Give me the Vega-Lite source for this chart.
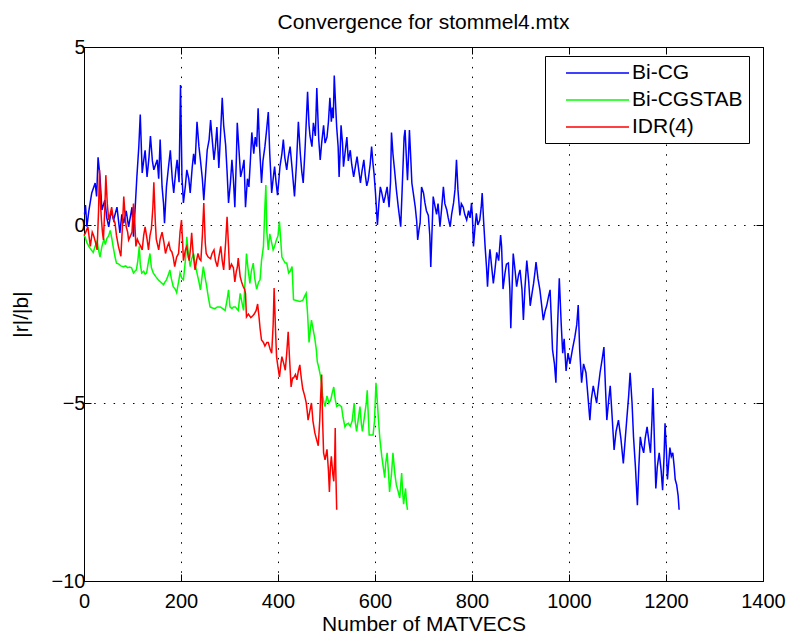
{
"$schema":"https://vega.github.io/schema/vega-lite/v6.json",
"autosize":"none",
"width":679,"height":534,
"padding":{"left":84,"top":47,"right":24,"bottom":52},
"background":"white",
"title":{"text":"Convergence for stommel4.mtx","fontSize":21,"fontWeight":"normal","font":"Liberation Sans","color":"black","anchor":"middle","offset":4},
"config":{"view":{"stroke":null},"axis":{"labelFont":"Liberation Sans","titleFont":"Liberation Sans","labelColor":"black","titleColor":"black","domainColor":"black","tickColor":"black","gridColor":"black","gridDash":[1.5,8.2],"gridOpacity":1,"gridWidth":1,"tickSize":-7,"titleFontWeight":"normal"}},
"data":{"values":[
{"method":"Bi-CG","x":1,"y":0.3},{"method":"Bi-CG","x":3,"y":0.56},{"method":"Bi-CG","x":6,"y":-0.05},{"method":"Bi-CG","x":10,"y":0.4},{"method":"Bi-CG","x":16,"y":0.9},{"method":"Bi-CG","x":23,"y":1.18},{"method":"Bi-CG","x":26,"y":0.8},{"method":"Bi-CG","x":29,"y":1.9},{"method":"Bi-CG","x":33,"y":1.35},{"method":"Bi-CG","x":37,"y":0.42},{"method":"Bi-CG","x":43,"y":0.7},{"method":"Bi-CG","x":47,"y":0.2},{"method":"Bi-CG","x":51,"y":-0.05},{"method":"Bi-CG","x":56,"y":0.4},{"method":"Bi-CG","x":61,"y":0.14},{"method":"Bi-CG","x":68,"y":0.5},{"method":"Bi-CG","x":74,"y":-0.22},{"method":"Bi-CG","x":78,"y":0.3},{"method":"Bi-CG","x":82,"y":0.05},{"method":"Bi-CG","x":87,"y":0.4},{"method":"Bi-CG","x":92,"y":-0.05},{"method":"Bi-CG","x":99,"y":0.5},{"method":"Bi-CG","x":102,"y":-0.33},{"method":"Bi-CG","x":106,"y":0.6},{"method":"Bi-CG","x":109,"y":1.35},{"method":"Bi-CG","x":113,"y":2.2},{"method":"Bi-CG","x":116,"y":3.1},{"method":"Bi-CG","x":120,"y":1.46},{"method":"Bi-CG","x":123,"y":1.8},{"method":"Bi-CG","x":126,"y":2.1},{"method":"Bi-CG","x":130,"y":1.35},{"method":"Bi-CG","x":134,"y":1.9},{"method":"Bi-CG","x":137,"y":2.5},{"method":"Bi-CG","x":141,"y":1.8},{"method":"Bi-CG","x":144,"y":1.55},{"method":"Bi-CG","x":151,"y":1.83},{"method":"Bi-CG","x":154,"y":1.3},{"method":"Bi-CG","x":157,"y":2.4},{"method":"Bi-CG","x":161,"y":1.07},{"method":"Bi-CG","x":164,"y":0.6},{"method":"Bi-CG","x":166,"y":0.05},{"method":"Bi-CG","x":170,"y":1.07},{"method":"Bi-CG","x":174,"y":1.6},{"method":"Bi-CG","x":178,"y":2.1},{"method":"Bi-CG","x":182,"y":1.3},{"method":"Bi-CG","x":185,"y":0.9},{"method":"Bi-CG","x":189,"y":1.5},{"method":"Bi-CG","x":192,"y":1.83},{"method":"Bi-CG","x":196,"y":1.2},{"method":"Bi-CG","x":199,"y":3.93},{"method":"Bi-CG","x":202,"y":1.35},{"method":"Bi-CG","x":205,"y":0.62},{"method":"Bi-CG","x":209,"y":1.1},{"method":"Bi-CG","x":212,"y":1.55},{"method":"Bi-CG","x":216,"y":1.3},{"method":"Bi-CG","x":219,"y":0.9},{"method":"Bi-CG","x":223,"y":1.6},{"method":"Bi-CG","x":226,"y":2.0},{"method":"Bi-CG","x":229,"y":1.7},{"method":"Bi-CG","x":233,"y":2.9},{"method":"Bi-CG","x":237,"y":2.2},{"method":"Bi-CG","x":240,"y":1.83},{"method":"Bi-CG","x":244,"y":1.3},{"method":"Bi-CG","x":247,"y":0.7},{"method":"Bi-CG","x":251,"y":1.5},{"method":"Bi-CG","x":254,"y":2.1},{"method":"Bi-CG","x":258,"y":2.4},{"method":"Bi-CG","x":261,"y":2.95},{"method":"Bi-CG","x":265,"y":2.3},{"method":"Bi-CG","x":268,"y":1.83},{"method":"Bi-CG","x":271,"y":2.2},{"method":"Bi-CG","x":274,"y":2.75},{"method":"Bi-CG","x":278,"y":1.6},{"method":"Bi-CG","x":281,"y":2.4},{"method":"Bi-CG","x":285,"y":3.57},{"method":"Bi-CG","x":288,"y":2.8},{"method":"Bi-CG","x":292,"y":2.25},{"method":"Bi-CG","x":295,"y":1.5},{"method":"Bi-CG","x":298,"y":0.62},{"method":"Bi-CG","x":302,"y":1.2},{"method":"Bi-CG","x":305,"y":1.83},{"method":"Bi-CG","x":308,"y":1.3},{"method":"Bi-CG","x":311,"y":0.5},{"method":"Bi-CG","x":314,"y":1.8},{"method":"Bi-CG","x":316,"y":2.87},{"method":"Bi-CG","x":320,"y":2.0},{"method":"Bi-CG","x":323,"y":1.35},{"method":"Bi-CG","x":327,"y":1.6},{"method":"Bi-CG","x":330,"y":1.83},{"method":"Bi-CG","x":333,"y":0.5},{"method":"Bi-CG","x":337,"y":1.3},{"method":"Bi-CG","x":340,"y":1.07},{"method":"Bi-CG","x":343,"y":1.8},{"method":"Bi-CG","x":346,"y":2.6},{"method":"Bi-CG","x":350,"y":2.0},{"method":"Bi-CG","x":353,"y":2.47},{"method":"Bi-CG","x":356,"y":2.2},{"method":"Bi-CG","x":359,"y":3.28},{"method":"Bi-CG","x":362,"y":2.2},{"method":"Bi-CG","x":366,"y":1.18},{"method":"Bi-CG","x":369,"y":1.8},{"method":"Bi-CG","x":373,"y":2.2},{"method":"Bi-CG","x":376,"y":2.6},{"method":"Bi-CG","x":380,"y":3.17},{"method":"Bi-CG","x":383,"y":2.0},{"method":"Bi-CG","x":387,"y":0.9},{"method":"Bi-CG","x":390,"y":1.3},{"method":"Bi-CG","x":393,"y":1.64},{"method":"Bi-CG","x":396,"y":1.2},{"method":"Bi-CG","x":399,"y":0.84},{"method":"Bi-CG","x":402,"y":1.3},{"method":"Bi-CG","x":404,"y":1.64},{"method":"Bi-CG","x":408,"y":2.0},{"method":"Bi-CG","x":411,"y":2.4},{"method":"Bi-CG","x":414,"y":1.9},{"method":"Bi-CG","x":418,"y":1.55},{"method":"Bi-CG","x":421,"y":1.9},{"method":"Bi-CG","x":425,"y":2.2},{"method":"Bi-CG","x":429,"y":1.6},{"method":"Bi-CG","x":434,"y":0.8},{"method":"Bi-CG","x":438,"y":1.7},{"method":"Bi-CG","x":442,"y":2.9},{"method":"Bi-CG","x":446,"y":2.0},{"method":"Bi-CG","x":449,"y":1.5},{"method":"Bi-CG","x":452,"y":1.18},{"method":"Bi-CG","x":456,"y":2.2},{"method":"Bi-CG","x":461,"y":3.74},{"method":"Bi-CG","x":464,"y":2.8},{"method":"Bi-CG","x":466,"y":2.5},{"method":"Bi-CG","x":470,"y":2.2},{"method":"Bi-CG","x":473,"y":2.87},{"method":"Bi-CG","x":477,"y":2.5},{"method":"Bi-CG","x":480,"y":3.85},{"method":"Bi-CG","x":484,"y":2.4},{"method":"Bi-CG","x":487,"y":1.83},{"method":"Bi-CG","x":490,"y":2.3},{"method":"Bi-CG","x":494,"y":2.8},{"method":"Bi-CG","x":497,"y":2.3},{"method":"Bi-CG","x":501,"y":2.47},{"method":"Bi-CG","x":504,"y":2.9},{"method":"Bi-CG","x":507,"y":3.57},{"method":"Bi-CG","x":510,"y":2.9},{"method":"Bi-CG","x":512,"y":3.3},{"method":"Bi-CG","x":514,"y":3.0},{"method":"Bi-CG","x":516,"y":4.2},{"method":"Bi-CG","x":519,"y":3.3},{"method":"Bi-CG","x":521,"y":2.75},{"method":"Bi-CG","x":524,"y":2.2},{"method":"Bi-CG","x":526,"y":1.35},{"method":"Bi-CG","x":528,"y":2.0},{"method":"Bi-CG","x":530,"y":2.8},{"method":"Bi-CG","x":533,"y":2.3},{"method":"Bi-CG","x":535,"y":1.64},{"method":"Bi-CG","x":538,"y":2.0},{"method":"Bi-CG","x":542,"y":2.47},{"method":"Bi-CG","x":545,"y":1.8},{"method":"Bi-CG","x":549,"y":2.1},{"method":"Bi-CG","x":552,"y":1.7},{"method":"Bi-CG","x":556,"y":1.35},{"method":"Bi-CG","x":559,"y":1.6},{"method":"Bi-CG","x":563,"y":1.92},{"method":"Bi-CG","x":566,"y":1.6},{"method":"Bi-CG","x":570,"y":1.18},{"method":"Bi-CG","x":573,"y":1.5},{"method":"Bi-CG","x":577,"y":1.83},{"method":"Bi-CG","x":580,"y":1.4},{"method":"Bi-CG","x":583,"y":1.1},{"method":"Bi-CG","x":586,"y":1.26},{"method":"Bi-CG","x":590,"y":1.7},{"method":"Bi-CG","x":593,"y":2.2},{"method":"Bi-CG","x":596,"y":1.7},{"method":"Bi-CG","x":598,"y":1.45},{"method":"Bi-CG","x":601,"y":0.9},{"method":"Bi-CG","x":605,"y":0.0},{"method":"Bi-CG","x":608,"y":0.6},{"method":"Bi-CG","x":611,"y":1.07},{"method":"Bi-CG","x":614,"y":0.9},{"method":"Bi-CG","x":618,"y":0.62},{"method":"Bi-CG","x":621,"y":0.8},{"method":"Bi-CG","x":625,"y":1.07},{"method":"Bi-CG","x":629,"y":0.5},{"method":"Bi-CG","x":632,"y":1.2},{"method":"Bi-CG","x":634,"y":2.6},{"method":"Bi-CG","x":637,"y":2.0},{"method":"Bi-CG","x":641,"y":1.45},{"method":"Bi-CG","x":644,"y":1.0},{"method":"Bi-CG","x":648,"y":0.5},{"method":"Bi-CG","x":653,"y":-0.05},{"method":"Bi-CG","x":656,"y":1.0},{"method":"Bi-CG","x":660,"y":2.47},{"method":"Bi-CG","x":662,"y":2.67},{"method":"Bi-CG","x":665,"y":1.8},{"method":"Bi-CG","x":667,"y":1.26},{"method":"Bi-CG","x":669,"y":1.9},{"method":"Bi-CG","x":671,"y":2.67},{"method":"Bi-CG","x":674,"y":1.8},{"method":"Bi-CG","x":676,"y":1.18},{"method":"Bi-CG","x":680,"y":0.8},{"method":"Bi-CG","x":683,"y":0.5},{"method":"Bi-CG","x":686,"y":0.1},{"method":"Bi-CG","x":688,"y":-0.42},{"method":"Bi-CG","x":691,"y":-0.1},{"method":"Bi-CG","x":693,"y":0.05},{"method":"Bi-CG","x":696,"y":1.07},{"method":"Bi-CG","x":700,"y":0.9},{"method":"Bi-CG","x":703,"y":0.62},{"method":"Bi-CG","x":706,"y":0.4},{"method":"Bi-CG","x":710,"y":0.27},{"method":"Bi-CG","x":713,"y":-0.3},{"method":"Bi-CG","x":715,"y":-1.18},{"method":"Bi-CG","x":718,"y":0.0},{"method":"Bi-CG","x":720,"y":0.8},{"method":"Bi-CG","x":724,"y":0.5},{"method":"Bi-CG","x":727,"y":0.3},{"method":"Bi-CG","x":730,"y":0.6},{"method":"Bi-CG","x":734,"y":-0.05},{"method":"Bi-CG","x":737,"y":0.4},{"method":"Bi-CG","x":741,"y":1.07},{"method":"Bi-CG","x":744,"y":0.6},{"method":"Bi-CG","x":748,"y":0.42},{"method":"Bi-CG","x":751,"y":0.2},{"method":"Bi-CG","x":755,"y":-0.05},{"method":"Bi-CG","x":758,"y":0.3},{"method":"Bi-CG","x":762,"y":0.62},{"method":"Bi-CG","x":765,"y":1.0},{"method":"Bi-CG","x":768,"y":1.83},{"method":"Bi-CG","x":771,"y":1.0},{"method":"Bi-CG","x":775,"y":0.27},{"method":"Bi-CG","x":778,"y":0.6},{"method":"Bi-CG","x":782,"y":0.5},{"method":"Bi-CG","x":785,"y":0.3},{"method":"Bi-CG","x":789,"y":0.14},{"method":"Bi-CG","x":793,"y":0.4},{"method":"Bi-CG","x":796,"y":0.2},{"method":"Bi-CG","x":799,"y":0.62},{"method":"Bi-CG","x":801,"y":0.2},{"method":"Bi-CG","x":803,"y":-0.6},{"method":"Bi-CG","x":806,"y":-0.1},{"method":"Bi-CG","x":809,"y":0.33},{"method":"Bi-CG","x":812,"y":0.0},{"method":"Bi-CG","x":816,"y":0.14},{"method":"Bi-CG","x":819,"y":0.5},{"method":"Bi-CG","x":821,"y":0.9},{"method":"Bi-CG","x":824,"y":0.1},{"method":"Bi-CG","x":827,"y":-0.6},{"method":"Bi-CG","x":830,"y":-1.2},{"method":"Bi-CG","x":832,"y":-1.73},{"method":"Bi-CG","x":835,"y":-1.0},{"method":"Bi-CG","x":837,"y":-0.68},{"method":"Bi-CG","x":840,"y":-1.1},{"method":"Bi-CG","x":844,"y":-1.64},{"method":"Bi-CG","x":847,"y":-1.3},{"method":"Bi-CG","x":851,"y":-0.77},{"method":"Bi-CG","x":855,"y":-1.0},{"method":"Bi-CG","x":859,"y":-0.28},{"method":"Bi-CG","x":861,"y":-0.6},{"method":"Bi-CG","x":864,"y":-1.8},{"method":"Bi-CG","x":868,"y":-1.35},{"method":"Bi-CG","x":871,"y":-1.1},{"method":"Bi-CG","x":875,"y":-1.07},{"method":"Bi-CG","x":878,"y":-1.8},{"method":"Bi-CG","x":880,"y":-2.9},{"method":"Bi-CG","x":883,"y":-1.6},{"method":"Bi-CG","x":885,"y":-0.8},{"method":"Bi-CG","x":889,"y":-1.3},{"method":"Bi-CG","x":892,"y":-1.73},{"method":"Bi-CG","x":896,"y":-1.4},{"method":"Bi-CG","x":899,"y":-1.26},{"method":"Bi-CG","x":903,"y":-1.8},{"method":"Bi-CG","x":906,"y":-2.67},{"method":"Bi-CG","x":909,"y":-1.8},{"method":"Bi-CG","x":913,"y":-1.0},{"method":"Bi-CG","x":917,"y":-1.6},{"method":"Bi-CG","x":920,"y":-2.27},{"method":"Bi-CG","x":924,"y":-1.9},{"method":"Bi-CG","x":927,"y":-1.64},{"method":"Bi-CG","x":930,"y":-1.3},{"method":"Bi-CG","x":932,"y":-1.04},{"method":"Bi-CG","x":936,"y":-1.5},{"method":"Bi-CG","x":940,"y":-1.82},{"method":"Bi-CG","x":944,"y":-2.3},{"method":"Bi-CG","x":947,"y":-2.67},{"method":"Bi-CG","x":951,"y":-2.4},{"method":"Bi-CG","x":954,"y":-2.27},{"method":"Bi-CG","x":958,"y":-2.0},{"method":"Bi-CG","x":961,"y":-1.82},{"method":"Bi-CG","x":964,"y":-2.8},{"method":"Bi-CG","x":966,"y":-3.5},{"method":"Bi-CG","x":970,"y":-3.9},{"method":"Bi-CG","x":973,"y":-4.43},{"method":"Bi-CG","x":976,"y":-3.0},{"method":"Bi-CG","x":980,"y":-1.5},{"method":"Bi-CG","x":984,"y":-2.8},{"method":"Bi-CG","x":987,"y":-3.6},{"method":"Bi-CG","x":990,"y":-3.2},{"method":"Bi-CG","x":994,"y":-4.1},{"method":"Bi-CG","x":998,"y":-3.6},{"method":"Bi-CG","x":1002,"y":-3.9},{"method":"Bi-CG","x":1007,"y":-3.5},{"method":"Bi-CG","x":1012,"y":-3.15},{"method":"Bi-CG","x":1016,"y":-2.8},{"method":"Bi-CG","x":1019,"y":-2.25},{"method":"Bi-CG","x":1022,"y":-3.5},{"method":"Bi-CG","x":1026,"y":-4.43},{"method":"Bi-CG","x":1030,"y":-3.9},{"method":"Bi-CG","x":1035,"y":-4.15},{"method":"Bi-CG","x":1039,"y":-4.8},{"method":"Bi-CG","x":1043,"y":-5.48},{"method":"Bi-CG","x":1046,"y":-4.9},{"method":"Bi-CG","x":1050,"y":-4.52},{"method":"Bi-CG","x":1054,"y":-4.8},{"method":"Bi-CG","x":1057,"y":-5.0},{"method":"Bi-CG","x":1060,"y":-4.6},{"method":"Bi-CG","x":1064,"y":-4.15},{"method":"Bi-CG","x":1068,"y":-3.8},{"method":"Bi-CG","x":1072,"y":-3.43},{"method":"Bi-CG","x":1075,"y":-4.5},{"method":"Bi-CG","x":1078,"y":-5.48},{"method":"Bi-CG","x":1082,"y":-4.9},{"method":"Bi-CG","x":1085,"y":-4.52},{"method":"Bi-CG","x":1089,"y":-5.4},{"method":"Bi-CG","x":1093,"y":-6.32},{"method":"Bi-CG","x":1097,"y":-5.8},{"method":"Bi-CG","x":1102,"y":-5.48},{"method":"Bi-CG","x":1107,"y":-6.0},{"method":"Bi-CG","x":1112,"y":-6.7},{"method":"Bi-CG","x":1116,"y":-6.0},{"method":"Bi-CG","x":1119,"y":-5.48},{"method":"Bi-CG","x":1123,"y":-4.8},{"method":"Bi-CG","x":1126,"y":-4.15},{"method":"Bi-CG","x":1130,"y":-5.0},{"method":"Bi-CG","x":1133,"y":-5.95},{"method":"Bi-CG","x":1137,"y":-6.8},{"method":"Bi-CG","x":1141,"y":-7.87},{"method":"Bi-CG","x":1144,"y":-6.8},{"method":"Bi-CG","x":1147,"y":-5.95},{"method":"Bi-CG","x":1150,"y":-6.2},{"method":"Bi-CG","x":1154,"y":-6.4},{"method":"Bi-CG","x":1157,"y":-6.0},{"method":"Bi-CG","x":1161,"y":-5.67},{"method":"Bi-CG","x":1165,"y":-6.1},{"method":"Bi-CG","x":1168,"y":-6.4},{"method":"Bi-CG","x":1171,"y":-5.5},{"method":"Bi-CG","x":1173,"y":-4.58},{"method":"Bi-CG","x":1176,"y":-6.0},{"method":"Bi-CG","x":1179,"y":-7.4},{"method":"Bi-CG","x":1182,"y":-6.8},{"method":"Bi-CG","x":1186,"y":-6.4},{"method":"Bi-CG","x":1190,"y":-6.9},{"method":"Bi-CG","x":1193,"y":-7.45},{"method":"Bi-CG","x":1196,"y":-6.5},{"method":"Bi-CG","x":1198,"y":-5.57},{"method":"Bi-CG","x":1201,"y":-6.4},{"method":"Bi-CG","x":1203,"y":-7.15},{"method":"Bi-CG","x":1206,"y":-6.6},{"method":"Bi-CG","x":1208,"y":-6.25},{"method":"Bi-CG","x":1211,"y":-6.5},{"method":"Bi-CG","x":1214,"y":-6.4},{"method":"Bi-CG","x":1217,"y":-6.8},{"method":"Bi-CG","x":1219,"y":-7.15},{"method":"Bi-CG","x":1222,"y":-7.3},{"method":"Bi-CG","x":1225,"y":-7.6},{"method":"Bi-CG","x":1227,"y":-8.0},
{"method":"Bi-CGSTAB","x":0,"y":-0.3},{"method":"Bi-CGSTAB","x":2,"y":-0.33},{"method":"Bi-CGSTAB","x":6,"y":-0.5},{"method":"Bi-CGSTAB","x":10,"y":-0.6},{"method":"Bi-CGSTAB","x":15,"y":-0.7},{"method":"Bi-CGSTAB","x":19,"y":-0.77},{"method":"Bi-CGSTAB","x":23,"y":-0.6},{"method":"Bi-CGSTAB","x":27,"y":-0.45},{"method":"Bi-CGSTAB","x":30,"y":-0.7},{"method":"Bi-CGSTAB","x":33,"y":-0.9},{"method":"Bi-CGSTAB","x":37,"y":-0.6},{"method":"Bi-CGSTAB","x":41,"y":-0.4},{"method":"Bi-CGSTAB","x":44,"y":-0.55},{"method":"Bi-CGSTAB","x":47,"y":-0.38},{"method":"Bi-CGSTAB","x":51,"y":-0.3},{"method":"Bi-CGSTAB","x":54,"y":-0.15},{"method":"Bi-CGSTAB","x":57,"y":-0.35},{"method":"Bi-CGSTAB","x":60,"y":-0.6},{"method":"Bi-CGSTAB","x":64,"y":-0.9},{"method":"Bi-CGSTAB","x":67,"y":-1.07},{"method":"Bi-CGSTAB","x":72,"y":-1.1},{"method":"Bi-CGSTAB","x":76,"y":-1.15},{"method":"Bi-CGSTAB","x":81,"y":-1.17},{"method":"Bi-CGSTAB","x":86,"y":-1.15},{"method":"Bi-CGSTAB","x":90,"y":-1.2},{"method":"Bi-CGSTAB","x":94,"y":-1.18},{"method":"Bi-CGSTAB","x":98,"y":-1.2},{"method":"Bi-CGSTAB","x":102,"y":-1.35},{"method":"Bi-CGSTAB","x":105,"y":-1.3},{"method":"Bi-CGSTAB","x":108,"y":-1.26},{"method":"Bi-CGSTAB","x":111,"y":-1.0},{"method":"Bi-CGSTAB","x":114,"y":-0.6},{"method":"Bi-CGSTAB","x":116,"y":-1.1},{"method":"Bi-CGSTAB","x":119,"y":-1.35},{"method":"Bi-CGSTAB","x":123,"y":-1.3},{"method":"Bi-CGSTAB","x":126,"y":-1.38},{"method":"Bi-CGSTAB","x":129,"y":-1.35},{"method":"Bi-CGSTAB","x":132,"y":-1.1},{"method":"Bi-CGSTAB","x":136,"y":-0.8},{"method":"Bi-CGSTAB","x":139,"y":-1.2},{"method":"Bi-CGSTAB","x":143,"y":-1.35},{"method":"Bi-CGSTAB","x":148,"y":-1.45},{"method":"Bi-CGSTAB","x":153,"y":-1.54},{"method":"Bi-CGSTAB","x":158,"y":-1.6},{"method":"Bi-CGSTAB","x":164,"y":-1.68},{"method":"Bi-CGSTAB","x":167,"y":-1.6},{"method":"Bi-CGSTAB","x":170,"y":-1.54},{"method":"Bi-CGSTAB","x":174,"y":-1.4},{"method":"Bi-CGSTAB","x":177,"y":-1.26},{"method":"Bi-CGSTAB","x":180,"y":-1.5},{"method":"Bi-CGSTAB","x":184,"y":-1.73},{"method":"Bi-CGSTAB","x":188,"y":-1.8},{"method":"Bi-CGSTAB","x":191,"y":-1.9},{"method":"Bi-CGSTAB","x":195,"y":-1.6},{"method":"Bi-CGSTAB","x":198,"y":-1.35},{"method":"Bi-CGSTAB","x":202,"y":-1.5},{"method":"Bi-CGSTAB","x":205,"y":-1.54},{"method":"Bi-CGSTAB","x":209,"y":-1.0},{"method":"Bi-CGSTAB","x":212,"y":-0.33},{"method":"Bi-CGSTAB","x":215,"y":-0.8},{"method":"Bi-CGSTAB","x":219,"y":-1.17},{"method":"Bi-CGSTAB","x":222,"y":-0.95},{"method":"Bi-CGSTAB","x":226,"y":-0.8},{"method":"Bi-CGSTAB","x":229,"y":-1.1},{"method":"Bi-CGSTAB","x":233,"y":-1.35},{"method":"Bi-CGSTAB","x":237,"y":-1.6},{"method":"Bi-CGSTAB","x":240,"y":-1.82},{"method":"Bi-CGSTAB","x":243,"y":-1.5},{"method":"Bi-CGSTAB","x":246,"y":-1.17},{"method":"Bi-CGSTAB","x":250,"y":-1.5},{"method":"Bi-CGSTAB","x":253,"y":-1.73},{"method":"Bi-CGSTAB","x":256,"y":-2.0},{"method":"Bi-CGSTAB","x":260,"y":-2.3},{"method":"Bi-CGSTAB","x":265,"y":-2.33},{"method":"Bi-CGSTAB","x":270,"y":-2.35},{"method":"Bi-CGSTAB","x":275,"y":-2.3},{"method":"Bi-CGSTAB","x":281,"y":-2.3},{"method":"Bi-CGSTAB","x":286,"y":-2.35},{"method":"Bi-CGSTAB","x":291,"y":-2.4},{"method":"Bi-CGSTAB","x":295,"y":-2.1},{"method":"Bi-CGSTAB","x":298,"y":-1.82},{"method":"Bi-CGSTAB","x":301,"y":-2.3},{"method":"Bi-CGSTAB","x":305,"y":-2.35},{"method":"Bi-CGSTAB","x":308,"y":-2.3},{"method":"Bi-CGSTAB","x":312,"y":-2.3},{"method":"Bi-CGSTAB","x":315,"y":-2.35},{"method":"Bi-CGSTAB","x":318,"y":-2.4},{"method":"Bi-CGSTAB","x":322,"y":-1.92},{"method":"Bi-CGSTAB","x":326,"y":-2.2},{"method":"Bi-CGSTAB","x":329,"y":-2.4},{"method":"Bi-CGSTAB","x":332,"y":-1.6},{"method":"Bi-CGSTAB","x":335,"y":-0.8},{"method":"Bi-CGSTAB","x":338,"y":-1.2},{"method":"Bi-CGSTAB","x":342,"y":-1.64},{"method":"Bi-CGSTAB","x":345,"y":-1.3},{"method":"Bi-CGSTAB","x":349,"y":-1.07},{"method":"Bi-CGSTAB","x":352,"y":-1.5},{"method":"Bi-CGSTAB","x":356,"y":-1.8},{"method":"Bi-CGSTAB","x":360,"y":-1.6},{"method":"Bi-CGSTAB","x":363,"y":-1.54},{"method":"Bi-CGSTAB","x":366,"y":-1.0},{"method":"Bi-CGSTAB","x":370,"y":-0.6},{"method":"Bi-CGSTAB","x":373,"y":0.5},{"method":"Bi-CGSTAB","x":375,"y":1.12},{"method":"Bi-CGSTAB","x":377,"y":-0.2},{"method":"Bi-CGSTAB","x":380,"y":-0.7},{"method":"Bi-CGSTAB","x":383,"y":-0.25},{"method":"Bi-CGSTAB","x":387,"y":-0.5},{"method":"Bi-CGSTAB","x":390,"y":-0.7},{"method":"Bi-CGSTAB","x":393,"y":-0.6},{"method":"Bi-CGSTAB","x":396,"y":-0.45},{"method":"Bi-CGSTAB","x":400,"y":-0.3},{"method":"Bi-CGSTAB","x":403,"y":0.1},{"method":"Bi-CGSTAB","x":406,"y":-0.5},{"method":"Bi-CGSTAB","x":408,"y":-0.9},{"method":"Bi-CGSTAB","x":412,"y":-1.0},{"method":"Bi-CGSTAB","x":415,"y":-1.07},{"method":"Bi-CGSTAB","x":418,"y":-1.07},{"method":"Bi-CGSTAB","x":422,"y":-1.35},{"method":"Bi-CGSTAB","x":425,"y":-1.3},{"method":"Bi-CGSTAB","x":429,"y":-1.17},{"method":"Bi-CGSTAB","x":432,"y":-2.1},{"method":"Bi-CGSTAB","x":438,"y":-2.12},{"method":"Bi-CGSTAB","x":445,"y":-2.15},{"method":"Bi-CGSTAB","x":451,"y":-2.12},{"method":"Bi-CGSTAB","x":455,"y":-2.0},{"method":"Bi-CGSTAB","x":458,"y":-1.92},{"method":"Bi-CGSTAB","x":461,"y":-2.5},{"method":"Bi-CGSTAB","x":464,"y":-3.3},{"method":"Bi-CGSTAB","x":467,"y":-2.9},{"method":"Bi-CGSTAB","x":469,"y":-2.67},{"method":"Bi-CGSTAB","x":472,"y":-2.9},{"method":"Bi-CGSTAB","x":476,"y":-3.2},{"method":"Bi-CGSTAB","x":479,"y":-3.5},{"method":"Bi-CGSTAB","x":481,"y":-3.84},{"method":"Bi-CGSTAB","x":484,"y":-4.0},{"method":"Bi-CGSTAB","x":488,"y":-4.27},{"method":"Bi-CGSTAB","x":490,"y":-4.5},{"method":"Bi-CGSTAB","x":492,"y":-4.8},{"method":"Bi-CGSTAB","x":495,"y":-5.0},{"method":"Bi-CGSTAB","x":497,"y":-5.1},{"method":"Bi-CGSTAB","x":499,"y":-4.95},{"method":"Bi-CGSTAB","x":501,"y":-4.8},{"method":"Bi-CGSTAB","x":505,"y":-5.0},{"method":"Bi-CGSTAB","x":509,"y":-4.9},{"method":"Bi-CGSTAB","x":512,"y":-4.7},{"method":"Bi-CGSTAB","x":515,"y":-4.55},{"method":"Bi-CGSTAB","x":518,"y":-4.9},{"method":"Bi-CGSTAB","x":521,"y":-5.1},{"method":"Bi-CGSTAB","x":526,"y":-5.05},{"method":"Bi-CGSTAB","x":531,"y":-5.1},{"method":"Bi-CGSTAB","x":534,"y":-5.4},{"method":"Bi-CGSTAB","x":538,"y":-5.67},{"method":"Bi-CGSTAB","x":541,"y":-5.6},{"method":"Bi-CGSTAB","x":545,"y":-5.57},{"method":"Bi-CGSTAB","x":549,"y":-5.65},{"method":"Bi-CGSTAB","x":553,"y":-5.5},{"method":"Bi-CGSTAB","x":557,"y":-5.0},{"method":"Bi-CGSTAB","x":559,"y":-5.5},{"method":"Bi-CGSTAB","x":562,"y":-5.8},{"method":"Bi-CGSTAB","x":565,"y":-5.5},{"method":"Bi-CGSTAB","x":569,"y":-5.1},{"method":"Bi-CGSTAB","x":572,"y":-5.6},{"method":"Bi-CGSTAB","x":574,"y":-5.8},{"method":"Bi-CGSTAB","x":577,"y":-5.5},{"method":"Bi-CGSTAB","x":579,"y":-5.3},{"method":"Bi-CGSTAB","x":582,"y":-5.0},{"method":"Bi-CGSTAB","x":584,"y":-4.64},{"method":"Bi-CGSTAB","x":586,"y":-5.3},{"method":"Bi-CGSTAB","x":588,"y":-5.9},{"method":"Bi-CGSTAB","x":592,"y":-5.9},{"method":"Bi-CGSTAB","x":596,"y":-5.9},{"method":"Bi-CGSTAB","x":599,"y":-5.5},{"method":"Bi-CGSTAB","x":602,"y":-4.43},{"method":"Bi-CGSTAB","x":605,"y":-5.0},{"method":"Bi-CGSTAB","x":607,"y":-5.45},{"method":"Bi-CGSTAB","x":610,"y":-6.0},{"method":"Bi-CGSTAB","x":614,"y":-6.5},{"method":"Bi-CGSTAB","x":617,"y":-6.8},{"method":"Bi-CGSTAB","x":620,"y":-7.1},{"method":"Bi-CGSTAB","x":622,"y":-6.7},{"method":"Bi-CGSTAB","x":625,"y":-6.4},{"method":"Bi-CGSTAB","x":628,"y":-7.0},{"method":"Bi-CGSTAB","x":630,"y":-7.5},{"method":"Bi-CGSTAB","x":634,"y":-7.0},{"method":"Bi-CGSTAB","x":637,"y":-6.4},{"method":"Bi-CGSTAB","x":641,"y":-7.0},{"method":"Bi-CGSTAB","x":644,"y":-7.3},{"method":"Bi-CGSTAB","x":648,"y":-7.5},{"method":"Bi-CGSTAB","x":651,"y":-7.67},{"method":"Bi-CGSTAB","x":653,"y":-7.3},{"method":"Bi-CGSTAB","x":655,"y":-6.97},{"method":"Bi-CGSTAB","x":657,"y":-7.5},{"method":"Bi-CGSTAB","x":659,"y":-7.84},{"method":"Bi-CGSTAB","x":661,"y":-7.6},{"method":"Bi-CGSTAB","x":663,"y":-7.4},{"method":"Bi-CGSTAB","x":665,"y":-7.8},{"method":"Bi-CGSTAB","x":667,"y":-8.0},
{"method":"IDR(4)","x":0,"y":-0.3},{"method":"IDR(4)","x":3,"y":-0.22},{"method":"IDR(4)","x":8,"y":-0.05},{"method":"IDR(4)","x":13,"y":-0.6},{"method":"IDR(4)","x":17,"y":-0.2},{"method":"IDR(4)","x":20,"y":-0.3},{"method":"IDR(4)","x":24,"y":-0.5},{"method":"IDR(4)","x":27,"y":-0.7},{"method":"IDR(4)","x":30,"y":0.4},{"method":"IDR(4)","x":32,"y":1.55},{"method":"IDR(4)","x":34,"y":0.6},{"method":"IDR(4)","x":36,"y":0.14},{"method":"IDR(4)","x":38,"y":-0.2},{"method":"IDR(4)","x":40,"y":-0.42},{"method":"IDR(4)","x":43,"y":0.5},{"method":"IDR(4)","x":45,"y":1.4},{"method":"IDR(4)","x":48,"y":0.6},{"method":"IDR(4)","x":51,"y":0.14},{"method":"IDR(4)","x":54,"y":0.3},{"method":"IDR(4)","x":57,"y":0.5},{"method":"IDR(4)","x":60,"y":0.2},{"method":"IDR(4)","x":64,"y":0.05},{"method":"IDR(4)","x":67,"y":-0.3},{"method":"IDR(4)","x":71,"y":-0.6},{"method":"IDR(4)","x":76,"y":-0.88},{"method":"IDR(4)","x":79,"y":-0.1},{"method":"IDR(4)","x":82,"y":0.8},{"method":"IDR(4)","x":85,"y":0.2},{"method":"IDR(4)","x":87,"y":-0.05},{"method":"IDR(4)","x":90,"y":-0.2},{"method":"IDR(4)","x":92,"y":-0.42},{"method":"IDR(4)","x":96,"y":-0.3},{"method":"IDR(4)","x":99,"y":-0.2},{"method":"IDR(4)","x":102,"y":0.6},{"method":"IDR(4)","x":105,"y":0.0},{"method":"IDR(4)","x":107,"y":-0.6},{"method":"IDR(4)","x":110,"y":-0.4},{"method":"IDR(4)","x":113,"y":-0.5},{"method":"IDR(4)","x":117,"y":-0.6},{"method":"IDR(4)","x":120,"y":-0.7},{"method":"IDR(4)","x":123,"y":-0.3},{"method":"IDR(4)","x":126,"y":-0.05},{"method":"IDR(4)","x":130,"y":-0.4},{"method":"IDR(4)","x":133,"y":-0.7},{"method":"IDR(4)","x":136,"y":-0.3},{"method":"IDR(4)","x":139,"y":-0.1},{"method":"IDR(4)","x":142,"y":0.5},{"method":"IDR(4)","x":144,"y":1.2},{"method":"IDR(4)","x":147,"y":0.1},{"method":"IDR(4)","x":149,"y":-0.4},{"method":"IDR(4)","x":154,"y":-0.7},{"method":"IDR(4)","x":157,"y":-0.4},{"method":"IDR(4)","x":161,"y":-0.2},{"method":"IDR(4)","x":165,"y":-0.5},{"method":"IDR(4)","x":168,"y":-0.8},{"method":"IDR(4)","x":172,"y":-0.6},{"method":"IDR(4)","x":175,"y":-0.5},{"method":"IDR(4)","x":178,"y":-0.7},{"method":"IDR(4)","x":181,"y":-0.75},{"method":"IDR(4)","x":184,"y":-0.9},{"method":"IDR(4)","x":187,"y":-1.17},{"method":"IDR(4)","x":191,"y":-0.9},{"method":"IDR(4)","x":195,"y":-0.8},{"method":"IDR(4)","x":198,"y":-0.2},{"method":"IDR(4)","x":201,"y":0.14},{"method":"IDR(4)","x":203,"y":-0.4},{"method":"IDR(4)","x":205,"y":-1.0},{"method":"IDR(4)","x":209,"y":-0.7},{"method":"IDR(4)","x":212,"y":-0.6},{"method":"IDR(4)","x":215,"y":-0.9},{"method":"IDR(4)","x":217,"y":-1.0},{"method":"IDR(4)","x":220,"y":-0.6},{"method":"IDR(4)","x":222,"y":-0.22},{"method":"IDR(4)","x":225,"y":-0.8},{"method":"IDR(4)","x":229,"y":-1.26},{"method":"IDR(4)","x":232,"y":-1.0},{"method":"IDR(4)","x":235,"y":-0.8},{"method":"IDR(4)","x":238,"y":-0.95},{"method":"IDR(4)","x":241,"y":-1.0},{"method":"IDR(4)","x":244,"y":-0.3},{"method":"IDR(4)","x":247,"y":0.62},{"method":"IDR(4)","x":250,"y":-0.5},{"method":"IDR(4)","x":252,"y":-0.8},{"method":"IDR(4)","x":256,"y":-0.9},{"method":"IDR(4)","x":261,"y":-0.95},{"method":"IDR(4)","x":264,"y":-0.8},{"method":"IDR(4)","x":268,"y":-0.7},{"method":"IDR(4)","x":271,"y":-1.0},{"method":"IDR(4)","x":275,"y":-1.17},{"method":"IDR(4)","x":278,"y":-0.9},{"method":"IDR(4)","x":282,"y":-0.6},{"method":"IDR(4)","x":285,"y":-1.0},{"method":"IDR(4)","x":288,"y":-1.26},{"method":"IDR(4)","x":292,"y":-0.5},{"method":"IDR(4)","x":295,"y":0.23},{"method":"IDR(4)","x":298,"y":-0.6},{"method":"IDR(4)","x":300,"y":-1.26},{"method":"IDR(4)","x":304,"y":-1.1},{"method":"IDR(4)","x":308,"y":-1.2},{"method":"IDR(4)","x":311,"y":-1.6},{"method":"IDR(4)","x":314,"y":-1.3},{"method":"IDR(4)","x":316,"y":-1.2},{"method":"IDR(4)","x":318,"y":-0.93},{"method":"IDR(4)","x":322,"y":-1.45},{"method":"IDR(4)","x":325,"y":-1.6},{"method":"IDR(4)","x":328,"y":-1.72},{"method":"IDR(4)","x":331,"y":-1.8},{"method":"IDR(4)","x":333,"y":-1.92},{"method":"IDR(4)","x":335,"y":-2.58},{"method":"IDR(4)","x":339,"y":-2.5},{"method":"IDR(4)","x":344,"y":-2.6},{"method":"IDR(4)","x":348,"y":-2.55},{"method":"IDR(4)","x":351,"y":-2.5},{"method":"IDR(4)","x":355,"y":-2.4},{"method":"IDR(4)","x":358,"y":-2.22},{"method":"IDR(4)","x":361,"y":-2.6},{"method":"IDR(4)","x":363,"y":-2.9},{"method":"IDR(4)","x":366,"y":-3.23},{"method":"IDR(4)","x":370,"y":-3.3},{"method":"IDR(4)","x":373,"y":-3.4},{"method":"IDR(4)","x":377,"y":-3.3},{"method":"IDR(4)","x":380,"y":-3.3},{"method":"IDR(4)","x":384,"y":-3.5},{"method":"IDR(4)","x":387,"y":-3.6},{"method":"IDR(4)","x":390,"y":-2.8},{"method":"IDR(4)","x":392,"y":-1.77},{"method":"IDR(4)","x":395,"y":-3.0},{"method":"IDR(4)","x":397,"y":-3.7},{"method":"IDR(4)","x":400,"y":-4.0},{"method":"IDR(4)","x":403,"y":-4.27},{"method":"IDR(4)","x":406,"y":-3.9},{"method":"IDR(4)","x":408,"y":-3.7},{"method":"IDR(4)","x":412,"y":-3.9},{"method":"IDR(4)","x":415,"y":-4.08},{"method":"IDR(4)","x":418,"y":-3.6},{"method":"IDR(4)","x":421,"y":-3.0},{"method":"IDR(4)","x":424,"y":-3.8},{"method":"IDR(4)","x":427,"y":-4.55},{"method":"IDR(4)","x":430,"y":-4.3},{"method":"IDR(4)","x":432,"y":-4.3},{"method":"IDR(4)","x":436,"y":-4.2},{"method":"IDR(4)","x":439,"y":-4.35},{"method":"IDR(4)","x":442,"y":-4.1},{"method":"IDR(4)","x":445,"y":-3.93},{"method":"IDR(4)","x":448,"y":-4.3},{"method":"IDR(4)","x":451,"y":-4.6},{"method":"IDR(4)","x":455,"y":-4.8},{"method":"IDR(4)","x":458,"y":-4.98},{"method":"IDR(4)","x":460,"y":-5.2},{"method":"IDR(4)","x":462,"y":-5.48},{"method":"IDR(4)","x":466,"y":-5.2},{"method":"IDR(4)","x":469,"y":-5.0},{"method":"IDR(4)","x":472,"y":-5.5},{"method":"IDR(4)","x":476,"y":-5.84},{"method":"IDR(4)","x":479,"y":-6.0},{"method":"IDR(4)","x":483,"y":-6.2},{"method":"IDR(4)","x":486,"y":-5.5},{"method":"IDR(4)","x":488,"y":-4.8},{"method":"IDR(4)","x":490,"y":-4.2},{"method":"IDR(4)","x":492,"y":-5.5},{"method":"IDR(4)","x":494,"y":-6.4},{"method":"IDR(4)","x":497,"y":-6.6},{"method":"IDR(4)","x":501,"y":-6.3},{"method":"IDR(4)","x":504,"y":-6.9},{"method":"IDR(4)","x":506,"y":-7.5},{"method":"IDR(4)","x":508,"y":-6.8},{"method":"IDR(4)","x":510,"y":-6.5},{"method":"IDR(4)","x":513,"y":-7.0},{"method":"IDR(4)","x":515,"y":-7.2},{"method":"IDR(4)","x":517,"y":-6.5},{"method":"IDR(4)","x":518,"y":-5.7},{"method":"IDR(4)","x":519,"y":-6.8},{"method":"IDR(4)","x":521,"y":-8.0}
]},
"layer":[
{"mark":{"type":"line","strokeWidth":1.5,"interpolate":"linear"},
 "encoding":{
  "x":{"field":"x","type":"quantitative","scale":{"domain":[0,1400],"nice":false,"zero":false},
       "axis":{"orient":"bottom","values":[0,200,400,600,800,1000,1200,1400],"format":"d","title":"Number of MATVECS","titleFontSize":21,"labelFontSize":20,"labelPadding":17,"titlePadding":2,"grid":true,"labelFlush":false}},
  "y":{"field":"y","type":"quantitative","scale":{"domain":[-10,5],"nice":false,"zero":false},
       "axis":{"orient":"left","values":[-10,-5,0,5],"format":"d","title":"|r|/|b|","titleFontSize":21,"labelFontSize":20,"labelPadding":6,"titlePadding":20,"grid":true,"labelFlush":false}},
  "color":{"field":"method","type":"nominal","sort":["Bi-CG","Bi-CGSTAB","IDR(4)"],
       "scale":{"domain":["Bi-CG","Bi-CGSTAB","IDR(4)"],"range":["#0000ff","#00ff00","#ff0000"]},
       "legend":{"orient":"none","legendX":461,"legendY":9,"title":null,"fillColor":"white","strokeColor":"black","padding":6,"symbolType":"M0.4,0H6.7","symbolSize":400,"symbolStrokeWidth":1.5,"labelFontSize":21,"labelFont":"Liberation Sans","labelColor":"black","labelOffset":59,"rowPadding":6}}
 }},
{"mark":{"type":"point","opacity":0},
 "encoding":{
  "x":{"field":"x","type":"quantitative","axis":{"orient":"top","values":[0,200,400,600,800,1000,1200,1400],"labels":false,"title":null,"grid":false}},
  "y":{"field":"y","type":"quantitative","axis":{"orient":"right","values":[-10,-5,0,5],"labels":false,"title":null,"grid":false}}
 }}
],
"resolve":{"axis":{"x":"independent","y":"independent"}}
}
